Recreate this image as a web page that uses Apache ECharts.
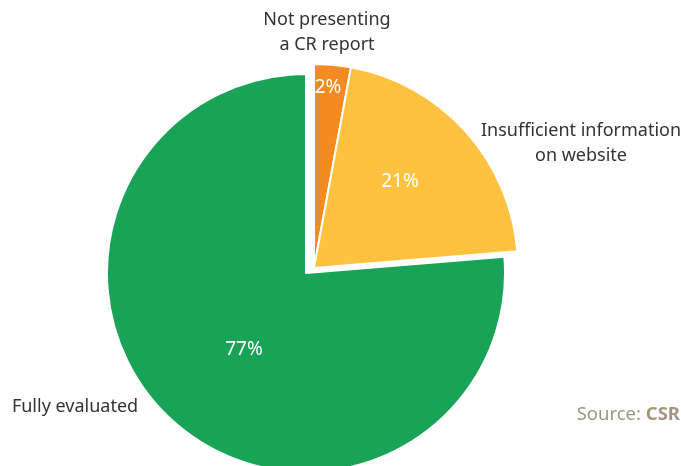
<!DOCTYPE html>
<html>
<head>
<meta charset="utf-8">
<script src="https://cdn.jsdelivr.net/npm/echarts@6/dist/echarts.min.js"></script>
<style>
  html, body { margin: 0; padding: 0; background: #fff; }
  #chart { width: 681px; height: 466px; }
</style>
</head>
<body>
<div id="chart"></div>
<script>
// data (slice shares, labels as printed)
var categories = ['Not presenting\na CR report', 'Insufficient information\non website', 'Fully evaluated'];
var values = [2.9, 20.8, 76.3];
var pctLabels = ['2%', '21%', '77%'];
var colors = ['#f58b20', '#fec240', '#18a356'];
// which slices are pulled out together as one group
var pulled = [true, true, false];

// label spots (text only)
var innerPos = [[328, 88], [400, 182], [244, 350]];
var outerPos = [[327, 32], [581, 143], [75, 407]];

var font = '"Noto Sans", sans-serif';
var chart = echarts.init(document.getElementById('chart'));

function makeData(showPulled) {
    return categories.map(function (c, i) {
        var vis = pulled[i] === showPulled;
        return {
            name: c,
            value: values[i],
            itemStyle: {
                color: vis ? colors[i] : 'transparent',
                borderWidth: vis ? 2 : 0
            },
            label: { show: vis }
        };
    });
}

function piePart(center, r, showPulled) {
    return {
        type: 'pie',
        center: center,
        radius: r,
        startAngle: 90,
        clockwise: true,
        animation: false,
        silent: true,
        itemStyle: { borderColor: '#fff' },
        labelLine: { show: false },
        data: makeData(showPulled),
        label: {
            position: 'inside',
            formatter: function (p) { return pctLabels[p.dataIndex]; },
            color: '#fff',
            fontFamily: font,
            fontSize: 19
        },
        labelLayout: function (p) {
            var pt = innerPos[p.dataIndex];
            return { x: pt[0], y: pt[1], align: 'center', verticalAlign: 'middle' };
        }
    };
}

chart.setOption({
    backgroundColor: '#fff',
    title: {
        right: -4,
        top: 400,
        text: '{a|Source: }{b|CSR}',
        textStyle: {
            rich: {
                a: { fontFamily: font, fontSize: 18.5, color: '#a39580', fontWeight: 'normal' },
                b: { fontFamily: font, fontSize: 18.5, color: '#a39580', fontWeight: 'bold' }
            }
        }
    },
    series: [
        piePart([306, 273], 199, false),
        piePart([314, 268], 204, true),
        {
            type: 'pie',
            center: [306, 273],
            radius: 199,
            startAngle: 90,
            animation: false,
            silent: true,
            z: 1,
            itemStyle: { color: 'transparent' },
            labelLine: { show: false },
            data: categories.map(function (c, i) { return { name: c, value: values[i] }; }),
            label: {
                show: true,
                position: 'inside',
                formatter: '{b}',
                color: '#333',
                fontFamily: font,
                fontSize: 18,
                lineHeight: 25,
                align: 'center'
            },
            labelLayout: function (p) {
                var pt = outerPos[p.dataIndex];
                return { x: pt[0], y: pt[1], align: 'center', verticalAlign: 'middle' };
            }
        }
    ]
});
</script>
</body>
</html>
